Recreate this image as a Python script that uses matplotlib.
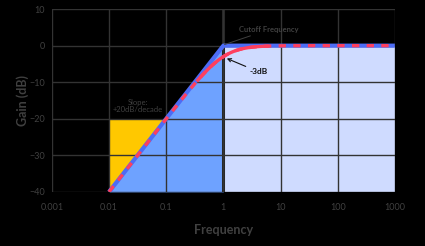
import numpy as np
import matplotlib
matplotlib.use('Agg')
import matplotlib.pyplot as plt

plt.rcParams['font.family'] = ['Lato', 'DejaVu Sans']

# data
x_ticks = [0.001, 0.01, 0.1, 1, 10, 100, 1000]
x_tick_labels = ['0.001', '0.01', '0.1', '1', '10', '100', '1000']
y_ticks = [10, 0, -10, -20, -30, -40]
cutoff = 1.0
asym_x = [0.01, 1, 1000]
asym_y = [-40, 0, 0]
slope_box_x = [0.01, 0.1]
slope_box_y = [-40, -20]

# high-pass response, 20*log10(f / sqrt(1 + f^2))
freq = np.logspace(-2, 3, 400)
gain = 20 * np.log10(freq / np.sqrt(1 + freq ** 2))

BG = '#000000'
TXT = '#404040'
GRID = '#333333'
YELLOW = '#FFC800'
BLUE_FILL = '#6EA2FF'
LIGHT_FILL = '#CFDBFF'
BLUE_LINE = '#4D6CF5'
RED_LINE = '#FF3F5E'

fig = plt.figure(figsize=(4.25, 2.46), dpi=100, facecolor=BG)
ax = fig.add_axes([0.122, 0.22, 0.807, 0.743])
ax.set_facecolor(BG)
ax.set_xscale('log')
ax.set_xlim(0.001, 1000)
ax.set_ylim(-40, 10)

# fills
ax.fill_between(slope_box_x, slope_box_y[0], slope_box_y[1], color=YELLOW, lw=0, zorder=1)
ax.fill_between(asym_x[:2], -40, asym_y[:2], color=BLUE_FILL, lw=0, zorder=1.5)
ax.fill_between([cutoff, 1000], -40, 0, color=LIGHT_FILL, lw=0, zorder=1)

# grid
ax.set_xticks(x_ticks)
ax.set_xticklabels(x_tick_labels)
ax.minorticks_off()
ax.set_yticks(y_ticks)
ax.grid(True, color=GRID, lw=1, zorder=2)
ax.set_axisbelow(False)
for gl in ax.get_xgridlines() + ax.get_ygridlines():
    gl.set_zorder(2)
ax.axvline(cutoff, color='#262626', lw=2.2, zorder=2.5)

# lines
ax.plot(asym_x, asym_y, color=BLUE_LINE, lw=3, solid_capstyle='butt', zorder=3)
near = (freq > 0.35) & (freq < 6)
ax.plot(freq[near], gain[near], color=RED_LINE, lw=2.4, zorder=4)
ax.plot(freq, gain, color=RED_LINE, lw=2.4, dashes=(2.2, 2.2), zorder=4)

for s in ax.spines.values():
    s.set_visible(False)
ax.tick_params(length=0, colors=TXT, labelsize=6.5)
ax.tick_params(axis='x', pad=8)
ax.tick_params(axis='y', pad=5)
ax.set_xlabel('Frequency', color=TXT, fontsize=9, fontweight='bold', labelpad=9)
ax.set_ylabel('Gain (dB)', color=TXT, fontsize=9, fontweight='bold', labelpad=0)

# annotations
ax.annotate('Cutoff Frequency', xy=(1.05, 0.3), xytext=(1.9, 4.4),
            color=TXT, fontsize=5.5, fontweight='bold', va='center',
            arrowprops=dict(arrowstyle='-', color=TXT, lw=0.7,
                            shrinkA=0, shrinkB=0))
ax.annotate('-3dB', xy=(1.15, -3.5), xytext=(2.9, -7.2),
            color='#111111', fontsize=6, fontweight='bold', va='center',
            arrowprops=dict(arrowstyle='->', color='#111111', lw=0.8,
                            shrinkA=1, shrinkB=0))
ax.text(0.0316, -16.5, 'Slope:\n+20dB/decade', color=TXT, fontsize=5.5,
        ha='center', va='center', linespacing=1.1)

fig.savefig('out.png', dpi=100, facecolor=BG)
